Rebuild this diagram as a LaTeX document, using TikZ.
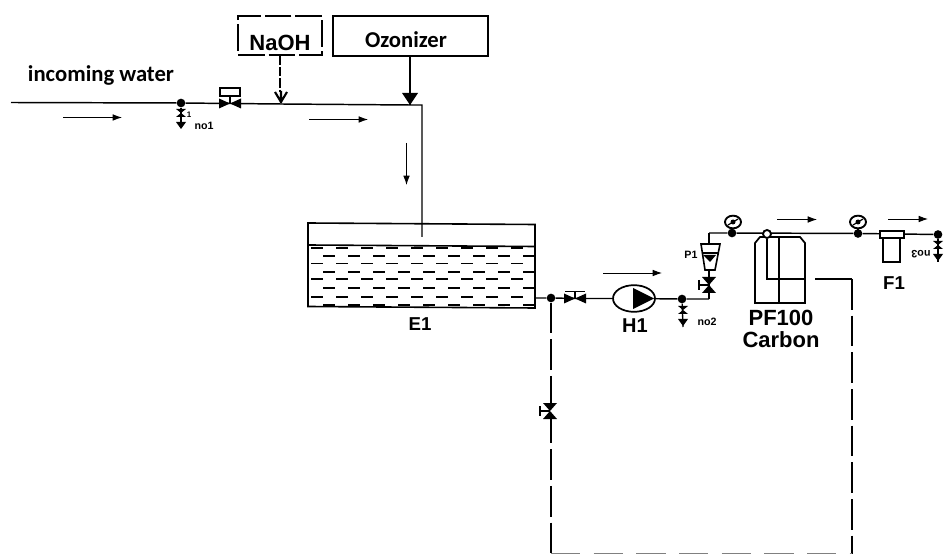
\documentclass[tikz,border=0pt]{standalone}
\usepackage{fontspec}
\setmainfont{Liberation Sans}
\newfontfamily\carl{Carlito}
\usetikzlibrary{arrows.meta,calc,shapes.geometric}
\tikzset{
  pipe/.style={line width=1.1pt,black},
  thinpipe/.style={line width=1pt,black},
  dashpipe/.style={line width=1.4pt,black,dash pattern=on 23pt off 4.5pt},
  flow/.style={line width=0.7pt,-{Latex[length=7pt,width=5pt]}},
  box/.style={draw,line width=1.1pt,inner sep=0pt},
  dashbox/.style={box,dash pattern=on 20pt off 3pt},
  lblcarl/.style={font=\carl\bfseries\fontsize{17}{19}\selectfont,inner sep=0pt},
  lblbig/.style={font=\bfseries\fontsize{14}{16}\selectfont,inner sep=0pt},
  lblhuge/.style={font=\bfseries\fontsize{16.5}{18}\selectfont,inner sep=0pt},
  tinylbl/.style={font=\bfseries\fontsize{8}{9}\selectfont,inner sep=0pt},
  dot/.style={circle,fill=black,minimum size=6.5pt,inner sep=0pt},
  gauge/.style={draw,ellipse,line width=1.4pt,minimum width=12pt,minimum height=9.5pt,inner sep=0pt,fill=white},
  valveH/.pic={\fill (-11,-5)--(11,5)--(11,-5)--(-11,5)--cycle;},
  valveV/.pic={\fill (-7,-8)--(7,8)--(-7,8)--(7,-8)--cycle;
     \draw[line width=1.2pt] (-10,0)--(0,0) (-10,-5)--(-10,5);},
  drainv/.pic={\fill (-5,4)--(5,4)--(-5,12)--(5,12)--cycle;
     \fill (-5,17)--(5,17)--(0,24)--cycle;},
}
\begin{document}
\begin{tikzpicture}[x=0.75pt,y=-0.75pt]
\useasboundingbox (0,0) rectangle (944,555);
% boxes
\node[dashbox,minimum width=63pt,minimum height=29pt] (naoh) at (280,35.5) {};
\node[lblhuge] (naohT) at (280,42.5) {NaOH};
\node[box,minimum width=116pt,minimum height=30pt] (ozo) at (410.5,36) {};
\node[lblcarl] (ozoT) at (406,40) {Ozonizer};
\node[lblcarl] (inc) at (101,75) {incoming water};
% main line
\coordinate (start) at (11,102.5);
\coordinate (corner) at (422,105);
\coordinate (inlet) at (422,237);
\node[dot] (j1) at (181,103) {};
\coordinate (v1) at (230,103.5);
\coordinate (fun) at (281,104);
\coordinate (ozj) at (410,105);
\draw[pipe] (start) -- (j1) -- (v1) -- (fun) -- (ozj) -- (corner) -- (inlet);
% drain 1
\coordinate (d1e) at (181,128);
\draw[thinpipe] (j1) -- (d1e);
\pic at (181,105) {drainv};
\node[tinylbl,font=\bfseries\fontsize{6}{7}\selectfont] at (189,115) {1};
\node[tinylbl] (no1) at (204,126) {no1};
% valve 1
\pic at (230,103.5) {valveH};
\node[draw,line width=1.4pt,minimum width=15pt,minimum height=6pt,inner sep=0pt] (v1top) at (230,92) {};
\draw[thinpipe] (v1top) -- (v1);
% NaOH line
\coordinate (funt) at (280,92);
\draw[line width=1.3pt,dash pattern=on 7pt off 1.5pt] (naoh.south) -- (funt);
\draw[line width=1.6pt] (275,92)--(281,102)--(287,92) (281,91)--(281,103);
% ozonizer
\draw[line width=1.5pt] (ozo.south -| ozj) -- (ozj);
\fill (402,93)--(418,93)--(410,105)--cycle;
% flow arrows
\draw[flow] (63,117.5) -- (122,117.5);
\draw[flow] (309,119.5) -- (368,119.5);
\draw[flow] (406.5,143) -- (406.5,185);
\draw[flow] (603,273) -- (662,273);
\draw[flow] (777,219.5) -- (817,219.5);
\draw[flow] (888,219) -- (928,219);
% tank
\draw[line width=1.2pt] (308,223) -- (535,224.5) -- (535,308) -- (308,306.5) -- cycle;
\draw[line width=1.2pt] (308,245) -- (535,246.5);
\foreach \yy/\xo in {248/311,256/323,263.5/311,272/323,279/311,288/323,297/311,305/323}{
  \foreach \k in {0,...,8}{
    \draw[line width=1.1pt] (\xo+\k*25,\yy) -- ++(12,0);
  }
}
\node[lblbig] (e1) at (420,324) {E1};
% outlet
\node[dot] (j2) at (551,298) {};
\coordinate (tout) at (535,298);
\coordinate (v2) at (575,298.5);
\node[draw,ellipse,line width=1.3pt,minimum width=31.5pt,minimum height=20pt,inner sep=0pt] (pump) at (634,298.5) {};
\fill (633,288)--(633,309)--(654,298.5)--cycle;
\node[lblbig,font=\bfseries\fontsize{15}{17}\selectfont] (h1) at (635,326) {H1};
\node[dot] (j3) at (682,299) {};
\coordinate (riser) at (709,299);
\draw[pipe] (tout) -- (j2) -- (v2) -- (pump);
\draw[pipe] (pump) -- (j3) -- (riser);
\pic at (575,298.5) {valveH};
\draw[line width=1.1pt] (565,291.5)--(585,291.5) (575,291)--(575,298);
% drain 2
\coordinate (d2e) at (683,327);
\draw[thinpipe] (j3) -- (d2e);
\pic at (683,302) {drainv};
\node[tinylbl] (no2) at (707,322) {no2};
% riser, valve, flowmeter
\coordinate (fmb) at (709,270);
\coordinate (fmt) at (709,244);
\coordinate (top) at (709,233);
\draw[pipe] (riser) -- (fmb);
\pic at (709,285) {valveV};
\draw[line width=1.2pt] (701,244)--(720,244)--(715,270)--(705,270)--cycle (703,253)--(718,253);
\fill (703,255)--(716,255)--(710,262)--cycle;
\draw[pipe] (fmt) -- (top);
\node[tinylbl] (p1) at (691,255) {P1};
% gauge 1, top line
\node[dot] (j4) at (732,233) {};
\node[gauge] (g1) at (733,222) {};
\fill (733,222) circle (2.5);
\draw[line width=0.9pt] (728,225)--(738,219);
\draw[pipe] (g1) -- (j4);
\node[dot] (j5) at (858,233.5) {};
\node[gauge] (g2) at (858,222) {};
\fill (858,222) circle (2.5);
\draw[line width=0.9pt] (853,225)--(863,219);
\draw[pipe] (g2) -- (j5);
\node[dot] (j6) at (938,234.5) {};
\draw[pipe] (top) -- (j4) -- (j5) -- (j6);
% carbon filter
\draw[line width=1.3pt] (755,303) -- (755,243) -- (760,237) -- (800,237) -- (805,243) -- (805,303) -- cycle;
\draw[line width=1.3pt] (779,237) -- (779,303);
\node[draw,circle,line width=1.4pt,minimum size=6pt,inner sep=0pt,fill=white] (cin) at (767,234) {};
\coordinate (iny) at (767,279);
\coordinate (inr) at (804,279);
\draw[line width=1.3pt] (cin) -- (iny) -- (inr);
\node[lblhuge] (pf) at (781,318) {PF100};
\node[lblhuge] (carb) at (781,340) {Carbon};
% return dashed
\coordinate (rr) at (815,279);
\coordinate (rc) at (852,279);
\coordinate (rb) at (852,553.5);
\coordinate (lb) at (551,553.5);
\draw[line width=1.4pt] (rr) -- (rc);
\draw[dashpipe] (rc) -- (rb);
\draw[dashpipe] (j2) -- (lb);
\draw[line width=1.2pt,gray,dash pattern=on 22pt off 10pt] (lb) -- (rb);
\pic at (550,411) {valveV};
% final filter
\node[draw,line width=1.3pt,fill=white,minimum width=12.75pt,minimum height=18pt,inner sep=0pt] (f1) at (891.5,250) {};
\node[draw,line width=1.3pt,fill=white,minimum width=17.5pt,minimum height=5.5pt,inner sep=0pt] (f1cap) at (892,234.5) {};
\node[lblbig] (f1t) at (894,283) {F1};
% drain 3
\coordinate (d3e) at (938,262);
\draw[thinpipe] (j6) -- (d3e);
\pic at (938,237) {drainv};
\node[tinylbl,rotate=180] (no3) at (921,254) {no3};
\end{tikzpicture}
\end{document}
